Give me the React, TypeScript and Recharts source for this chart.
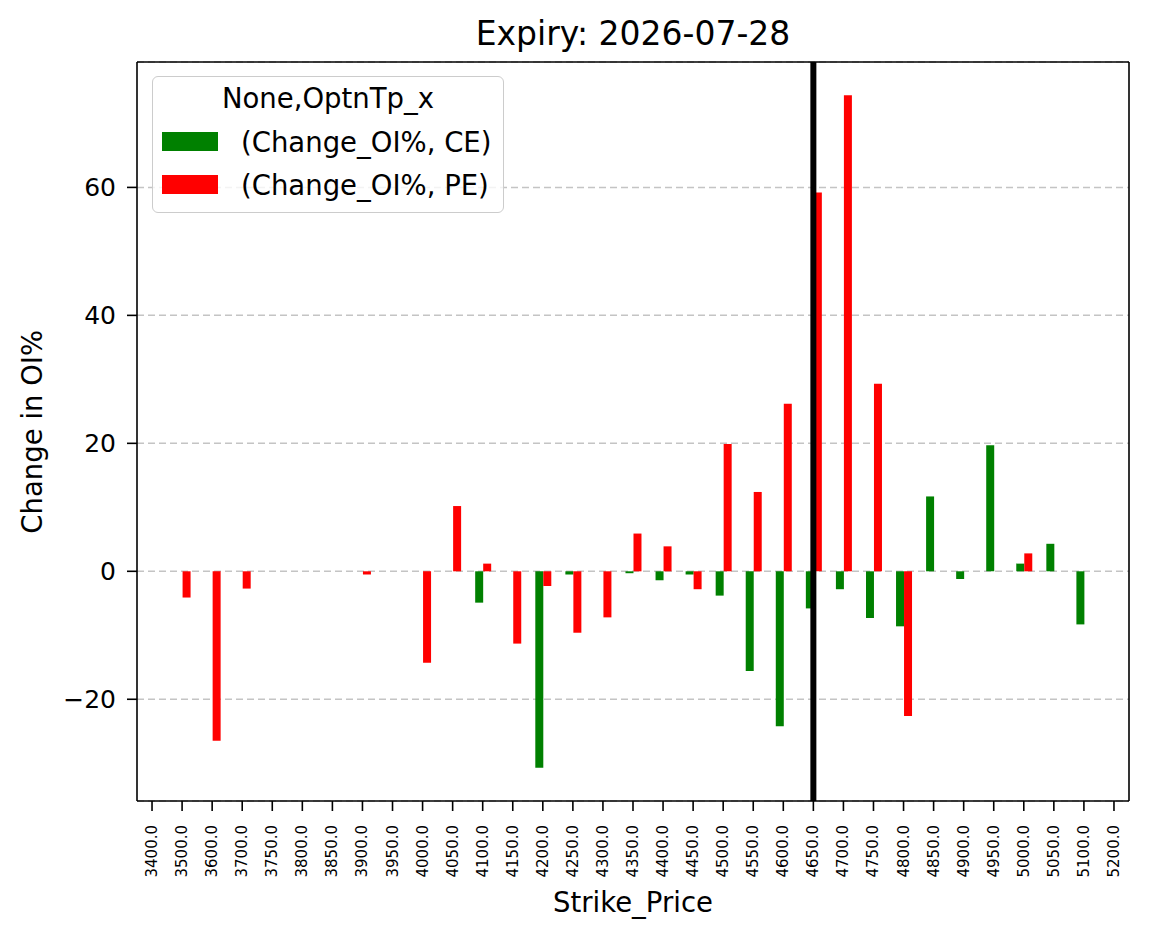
import React from 'react';
import { BarChart, Bar, XAxis, YAxis, CartesianGrid, ReferenceLine, Legend } from 'recharts';

// strike categories as printed on the x axis
const strikes = [
  '3400.0', '3500.0', '3600.0', '3700.0', '3750.0', '3800.0', '3850.0', '3900.0', '3950.0',
  '4000.0', '4050.0', '4100.0', '4150.0', '4200.0', '4250.0', '4300.0', '4350.0', '4400.0',
  '4450.0', '4500.0', '4550.0', '4600.0', '4650.0', '4700.0', '4750.0', '4800.0', '4850.0',
  '4900.0', '4950.0', '5000.0', '5050.0', '5100.0', '5200.0'
];

// Change_OI% for calls / puts (null = no bar)
const ceChange = [
  null, null, null, null, null, null, null, null, null,
  null, null, -4.9, null, -30.7, -0.5, null, -0.3, -1.4,
  -0.5, -3.8, -15.6, -24.2, -5.8, -2.8, -7.3, -8.6, 11.7,
  -1.2, 19.7, 1.2, 4.3, -8.3, null
];
const peChange = [
  null, -4.1, -26.5, -2.7, null, null, null, -0.5, null,
  -14.3, 10.2, 1.2, -11.3, -2.3, -9.6, -7.2, 5.9, 3.9,
  -2.8, 19.9, 12.4, 26.2, 59.2, 74.4, 29.3, -22.6, null,
  null, null, 2.8, null, null, null
];

const yTicks = [-20, 0, 20, 40, 60];
const yDomain = [-35.9, 79.6];
const spotStrike = '4650.0';
const lastStrike = strikes[strikes.length - 1];

const FONT = '"DejaVu Sans", sans-serif';
const SPINE = { stroke: '#000', strokeWidth: 1.6 };

const chartData = strikes.map((s, i) => ({
  strike: s,
  CE: ceChange[i],
  PE: peChange[i]
}));

const fmtY = (v: number) => (v < 0 ? `\u2212${Math.abs(v)}` : `${v}`);

const StrikeTick = (props: any) => {
  const { x, y, payload } = props;
  return (
    <text
      transform={`translate(${x},${y}) rotate(-90)`}
      textAnchor="end"
      dominantBaseline="central"
      fontSize={15}
      fontFamily={FONT}
      fill="#000"
    >
      {payload.value}
    </text>
  );
};

const LegendBox = ({ payload }: any) => (
  <div
    style={{
      position: 'relative',
      width: 352,
      height: 137,
      boxSizing: 'border-box',
      border: '1.5px solid #cccccc',
      borderRadius: 6,
      background: 'rgba(255,255,255,0.8)',
      fontFamily: FONT,
      fontSize: 27.5,
      lineHeight: '27.5px',
      color: '#000'
    }}
  >
    <div style={{ position: 'absolute', top: 8, left: 0, width: '100%', textAlign: 'center' }}>
      None,OptnTp_x
    </div>
    {(payload || []).map((p: any, i: number) => (
      <React.Fragment key={p.value}>
        <div style={{ position: 'absolute', left: 9, top: 55 + i * 43, width: 56, height: 19, background: p.color }} />
        <div style={{ position: 'absolute', left: 88, top: 52 + i * 43, whiteSpace: 'nowrap' }}>{p.value}</div>
      </React.Fragment>
    ))}
  </div>
);

export default function App() {
  return (
    <div style={{ position: 'absolute', left: 0, top: 0, width: 1149, height: 939, background: '#fff' }}>
      <BarChart
        width={1149}
        height={939}
        data={chartData}
        margin={{ top: 62, right: 20, left: 77, bottom: 48 }}
        barCategoryGap="25%"
        barGap={0}
      >
        <CartesianGrid vertical={false} stroke="#c4c4c4" strokeDasharray="7 4" strokeWidth={1.5} />
        <XAxis
          dataKey="strike"
          height={90}
          interval={0}
          tick={<StrikeTick />}
          tickSize={10}
          tickMargin={14}
          tickLine={SPINE}
          axisLine={SPINE}
        />
        <YAxis
          width={60}
          domain={yDomain}
          ticks={yTicks}
          allowDataOverflow
          tickFormatter={fmtY}
          tickSize={10}
          tickMargin={11}
          tick={{ fill: '#000', fontSize: 25, fontFamily: FONT }}
          tickLine={SPINE}
          axisLine={SPINE}
        />
        <Legend
          layout="horizontal"
          verticalAlign="middle"
          align="center"
          content={<LegendBox />}
          wrapperStyle={{ left: 152, top: 76, width: 352, height: 137 }}
        />
        <Bar dataKey="CE" name="(Change_OI%, CE)" fill="#008000" isAnimationActive={false} />
        <Bar dataKey="PE" name="(Change_OI%, PE)" fill="#ff0000" isAnimationActive={false} />
        {/* top and right spines */}
        <ReferenceLine y={yDomain[1]} stroke="#000" strokeWidth={1.6} />
        <ReferenceLine x={lastStrike} position="end" stroke="#000" strokeWidth={1.6} />
        <ReferenceLine x={spotStrike} stroke="#000" strokeWidth={6} />
      </BarChart>

      <div
        style={{
          position: 'absolute', left: 137, top: 17, width: 992, textAlign: 'center',
          fontFamily: FONT, fontSize: 33, lineHeight: '33px', color: '#000'
        }}
      >
        Expiry: 2026-07-28
      </div>
      <div
        style={{
          position: 'absolute', left: 137, top: 889, width: 992, textAlign: 'center',
          fontFamily: FONT, fontSize: 27.5, lineHeight: '27.5px', color: '#000'
        }}
      >
        Strike_Price
      </div>
      <div
        style={{
          position: 'absolute', left: -167.5, top: 417.75, width: 400, height: 27.5, textAlign: 'center',
          fontFamily: FONT, fontSize: 27.5, lineHeight: '27.5px', color: '#000', transform: 'rotate(-90deg)'
        }}
      >
        Change in OI%
      </div>
    </div>
  );
}
